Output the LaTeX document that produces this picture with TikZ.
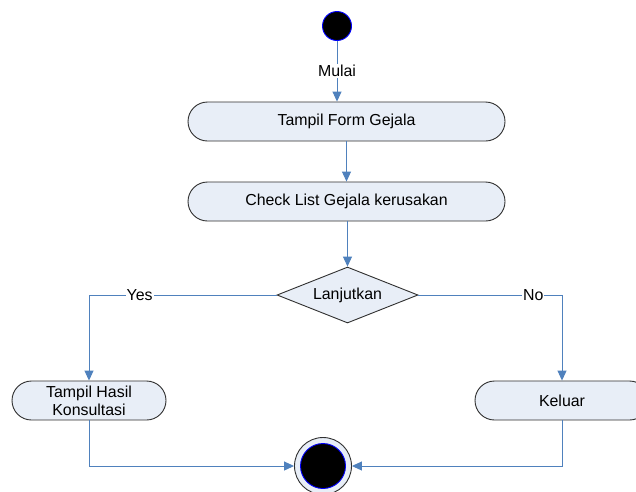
\documentclass[tikz,border=0pt]{standalone}
\usepackage{fontspec}
\setmainfont{Liberation Sans}
\usetikzlibrary{shapes.geometric,arrows.meta}
\definecolor{flowblue}{HTML}{4F81BD}
\definecolor{boxfill}{HTML}{E8EEF7}
\definecolor{boxline}{HTML}{303030}
\begin{document}
\begin{tikzpicture}[x=1pt,y=-1pt,
  font=\fontsize{15.9}{18}\selectfont,
  activity/.style={draw=boxline,line width=0.9pt,fill=boxfill,rounded corners=19.5pt,
    minimum height=39pt,inner sep=0pt,align=center},
  decision/.style={diamond,draw=boxline,line width=0.9pt,fill=boxfill,aspect=2.5,
    minimum width=141pt,minimum height=56pt,inner sep=0pt},
  flow/.style={draw=flowblue,line width=0.9pt},
  flowarrow/.style={flow,-{Triangle[width=9pt,length=10pt]}},
  flowlabel/.style={fill=white,inner sep=1pt,text=black}]
  \useasboundingbox (0,0) rectangle (636,491);
  \fill[white] (0,0) rectangle (636,491);

  % start and end markers
  \node[circle,fill=black,draw=blue,line width=0.9pt,minimum size=29pt,inner sep=0pt] (start) at (337,26) {};
  \node[circle,fill=boxfill,draw=boxline,line width=0.9pt,minimum size=57pt,inner sep=0pt] (finish) at (323,466) {};
  \node[circle,fill=black,draw=blue,line width=0.9pt,minimum size=45pt,inner sep=0pt] (finishdot) at (finish.center) {};

  % activities
  \node[activity,minimum width=317pt] (form) at (346.5,121.5) {Tampil Form Gejala};
  \node[activity,minimum width=317pt] (check) at (346.5,201.5) {Check List Gejala kerusakan};
  \node[decision] (ask) at (347.5,295) {Lanjutkan};
  \node[activity,minimum width=154pt] (result) at (89,400.5) {Tampil Hasil\\Konsultasi};
  \node[activity,minimum width=174pt] (quit) at (562,400.5) {Keluar};

  % connectors
  \draw[flowarrow] (start) -- node[flowlabel] {Mulai} (start |- form.north);
  \draw[flowarrow] (form) -- (check);
  \draw[flowarrow] (check.south -| ask.north) -- (ask.north);
  \draw[flowarrow] (ask.west) -| node[flowlabel,pos=0.365] {Yes} (result.north);
  \draw[flowarrow] (ask.east) -| node[flowlabel,pos=0.4] {No} (quit.north);
  \draw[flowarrow] (result.south) |- (finish.west);
  \draw[flowarrow] (quit.south) |- (finish.east);
\end{tikzpicture}
\end{document}
